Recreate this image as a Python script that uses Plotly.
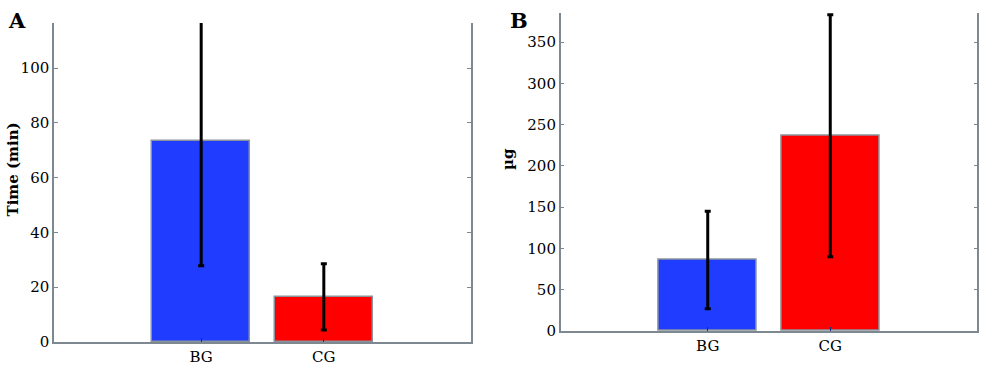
import plotly.graph_objects as go

groups = ["BG", "CG"]
group_pos = [1, 2]
time_mean = [73.4, 16.5]
time_sd = [45.6, 12.1]
mass_mean = [86.0, 236.5]
mass_sd = [59.0, 146.5]
bar_colors = ["#1f3cff", "#ff0000"]

time_ticks = [0, 20, 40, 60, 80, 100]
mass_ticks = [0, 50, 100, 150, 200, 250, 300, 350]

FONT = "DejaVu Serif"
AXC = "#7d8890"

fig = go.Figure()

for xa, ya, means, sds in [("x", "y", time_mean, time_sd), ("x2", "y2", mass_mean, mass_sd)]:
    fig.add_trace(go.Bar(
        x=group_pos, y=means, width=0.8,
        marker=dict(color=bar_colors, line=dict(color="#8a939c", width=1.5)),
        error_y=dict(type="data", array=sds, visible=True, color="black", thickness=3, width=3),
        xaxis=xa, yaxis=ya, showlegend=False, hoverinfo="skip",
    ))

xcommon = dict(range=[-0.2, 3.2], tickvals=group_pos, ticktext=groups, ticks="inside", ticklen=4,
               tickcolor="#1a2a80", showline=True, linecolor=AXC, linewidth=1.5, mirror=False,
               showgrid=False, zeroline=False, automargin=False,
               tickfont=dict(family=FONT, size=15, color="black"))
ycommon = dict(ticks="inside", ticklen=4, tickcolor=AXC, showline=True, linecolor=AXC, linewidth=1.5,
               mirror="ticks", showgrid=False, zeroline=False, automargin=False,
               tickfont=dict(family=FONT, size=15, color="black"))

fig.update_layout(
    width=1000, height=370,
    margin=dict(l=0, r=0, t=0, b=0),
    paper_bgcolor="white", plot_bgcolor="white",
    bargap=0,
    xaxis=dict(domain=[0.054, 0.471], anchor="y", **xcommon),
    yaxis=dict(domain=[0.0757, 0.9378], anchor="x", range=[0, 116.5], tickvals=time_ticks, **ycommon),
    xaxis2=dict(domain=[0.5607, 0.9773], anchor="y2", **xcommon),
    yaxis2=dict(domain=[0.1054, 0.9657], anchor="x2", range=[0, 385.5], tickvals=mass_ticks, **ycommon),
    annotations=[
        dict(text="<b>A</b>", x=0.006, y=0.985, xref="paper", yref="paper", xanchor="left", yanchor="top",
             showarrow=False, font=dict(family=FONT, size=21, color="black")),
        dict(text="<b>B</b>", x=0.508, y=0.985, xref="paper", yref="paper", xanchor="left", yanchor="top",
             showarrow=False, font=dict(family=FONT, size=21, color="black")),
        dict(text="<b>Time (min)</b>", x=0.0135, y=0.5405, xref="paper", yref="paper", textangle=-90,
             xanchor="center", yanchor="middle", showarrow=False,
             font=dict(family=FONT, size=15, color="black")),
        dict(text="<b>µg</b>", x=0.508, y=0.570, xref="paper", yref="paper", textangle=-90,
             xanchor="center", yanchor="middle", showarrow=False,
             font=dict(family=FONT, size=15, color="black")),
    ],
)

fig.write_html("out.html", config={"displayModeBar": False},
               post_script="document.body.style.margin='0';document.body.style.overflow='hidden';")
